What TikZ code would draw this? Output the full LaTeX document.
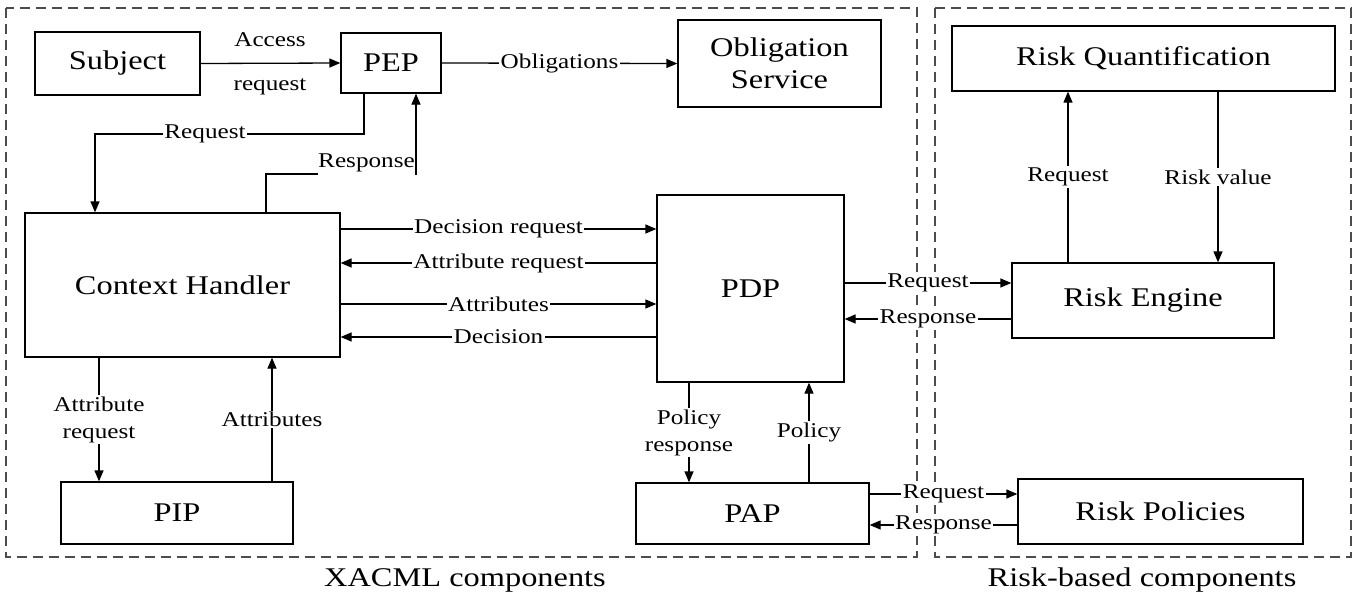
\documentclass[tikz,border=0pt]{standalone}
\usepackage{fontspec}
\setmainfont{Liberation Serif}[FakeStretch=1.2]
\usetikzlibrary{arrows.meta}
\begin{document}
\begin{tikzpicture}[x=1pt,y=-1pt,
 box/.style={draw, line width=1.3pt, inner sep=0pt, font=\fontsize{27}{32}\selectfont, align=center},
 lbl/.style={fill=white, inner sep=1.5pt, font=\fontsize{21}{27}\selectfont, align=center},
 plainlbl/.style={inner sep=1.5pt, font=\fontsize{21}{27}\selectfont, align=center},
 conn/.style={line width=1.3pt},
 arr/.style={conn, -{Triangle[length=11pt,width=9pt]}},
 rarr/.style={conn, {Triangle[length=11pt,width=9pt]}-},
 framebox/.style={draw=black!70, line width=1.3pt, dash pattern=on 10pt off 6pt},
 captext/.style={font=\fontsize{27}{32}\selectfont}]
\useasboundingbox (0,0) rectangle (1353,597);
\fill[white] (0,0) rectangle (1353,597);
% frames
\draw[framebox] (6,8) rectangle (917,557);
\draw[framebox] (935,8) rectangle (1351,557);
\node[captext] (capx) at (465,580) {XACML components};
\node[captext] (capr) at (1142,580) {Risk-based components};
% boxes
\node[box, minimum width=165pt, minimum height=63pt] (subj) at (117.5,63.5) {Subject};
\node[box, minimum width=100pt, minimum height=60pt] (pep) at (391,63) {PEP};
\node[box, minimum width=203pt, minimum height=87pt] (obs) at (779.5,63.5) {Obligation\\Service};
\node[box, minimum width=315pt, minimum height=144pt] (ch) at (182.5,285) {Context Handler};
\node[box, minimum width=187pt, minimum height=187pt] (pdp) at (750.5,288.5) {PDP};
\node[box, minimum width=232pt, minimum height=62pt] (pip) at (177,513) {PIP};
\node[box, minimum width=233pt, minimum height=61pt] (pap) at (752.5,513.5) {PAP};
\node[box, minimum width=383pt, minimum height=65pt] (rq) at (1143.5,58.5) {Risk Quantification};
\node[box, minimum width=262pt, minimum height=75pt] (re) at (1143,300.5) {Risk Engine};
\node[box, minimum width=285pt, minimum height=65pt] (rp) at (1160.5,511.5) {Risk Policies};
% Subject -> PEP
\draw[arr] (subj.east) -- (pep.west);
\node[plainlbl] (lacc) at (270,40) {Access};
\node[plainlbl] (lreq) at (270,87) {request};
% PEP -> Obligation service
\draw[arr] (pep.east) -- node[lbl]{Obligations} (obs.west);
% PEP -> CH request
\coordinate (rqc) at (95,134);
\draw[arr] ([xshift=-27pt]pep.south) |- (rqc) -- ([xshift=-87.5pt]ch.north);
\node[lbl] (lrq) at (205,134) {Request};
% CH -> PEP response
\coordinate (rsc) at (416,174);
\draw[arr] ([xshift=83.5pt]ch.north) |- (rsc) -- ([xshift=25pt]pep.south);
\node[lbl, inner xsep=0pt, minimum height=27pt, anchor=east] (lrs) at (415,163) {Response};
% CH <-> PDP
\draw[arr] ([yshift=56pt]ch.east) -- node[lbl]{Decision request} ([yshift=56pt]ch.east -| pdp.west);
\draw[rarr] ([yshift=22pt]ch.east) -- node[lbl]{Attribute request} ([yshift=22pt]ch.east -| pdp.west);
\draw[arr] ([yshift=-19pt]ch.east) -- node[lbl]{Attributes} ([yshift=-19pt]ch.east -| pdp.west);
\draw[rarr] ([yshift=-52pt]ch.east) -- node[lbl]{Decision} ([yshift=-52pt]ch.east -| pdp.west);
% PDP <-> Risk Engine
\draw[arr] ([yshift=5.5pt]pdp.east) -- node[lbl]{Request} ([yshift=5.5pt]pdp.east -| re.west);
\draw[rarr] ([yshift=-30.5pt]pdp.east) -- node[lbl]{Response} ([yshift=-30.5pt]pdp.east -| re.west);
% Risk Engine <-> Risk Quantification
\draw[arr] ([xshift=-75pt]re.north) -- node[lbl]{Request} ([xshift=-75pt]re.north |- rq.south);
\draw[arr] ([xshift=74.5pt]rq.south) -- node[lbl]{Risk value} ([xshift=74.5pt]rq.south |- re.north);
% CH <-> PIP
\draw[arr] ([xshift=-83.5pt]ch.south) -- node[lbl]{Attribute\\request} ([xshift=-83.5pt]ch.south |- pip.north);
\draw[arr] ([xshift=95pt]pip.north) -- node[lbl]{Attributes} ([xshift=95pt]pip.north |- ch.south);
% PDP <-> PAP
\draw[arr] ([xshift=-61.5pt]pdp.south) -- node[lbl]{Policy\\response} ([xshift=-61.5pt]pdp.south |- pap.north);
\draw[arr] ([xshift=56.5pt]pap.north) -- node[lbl]{Policy} ([xshift=56.5pt]pap.north |- pdp.south);
% PAP <-> Risk Policies
\draw[arr] ([yshift=19.5pt]pap.east) -- node[lbl]{Request} ([yshift=19.5pt]pap.east -| rp.west);
\draw[rarr] ([yshift=-11.5pt]pap.east) -- node[lbl]{Response} ([yshift=-11.5pt]pap.east -| rp.west);
\end{tikzpicture}
\end{document}
